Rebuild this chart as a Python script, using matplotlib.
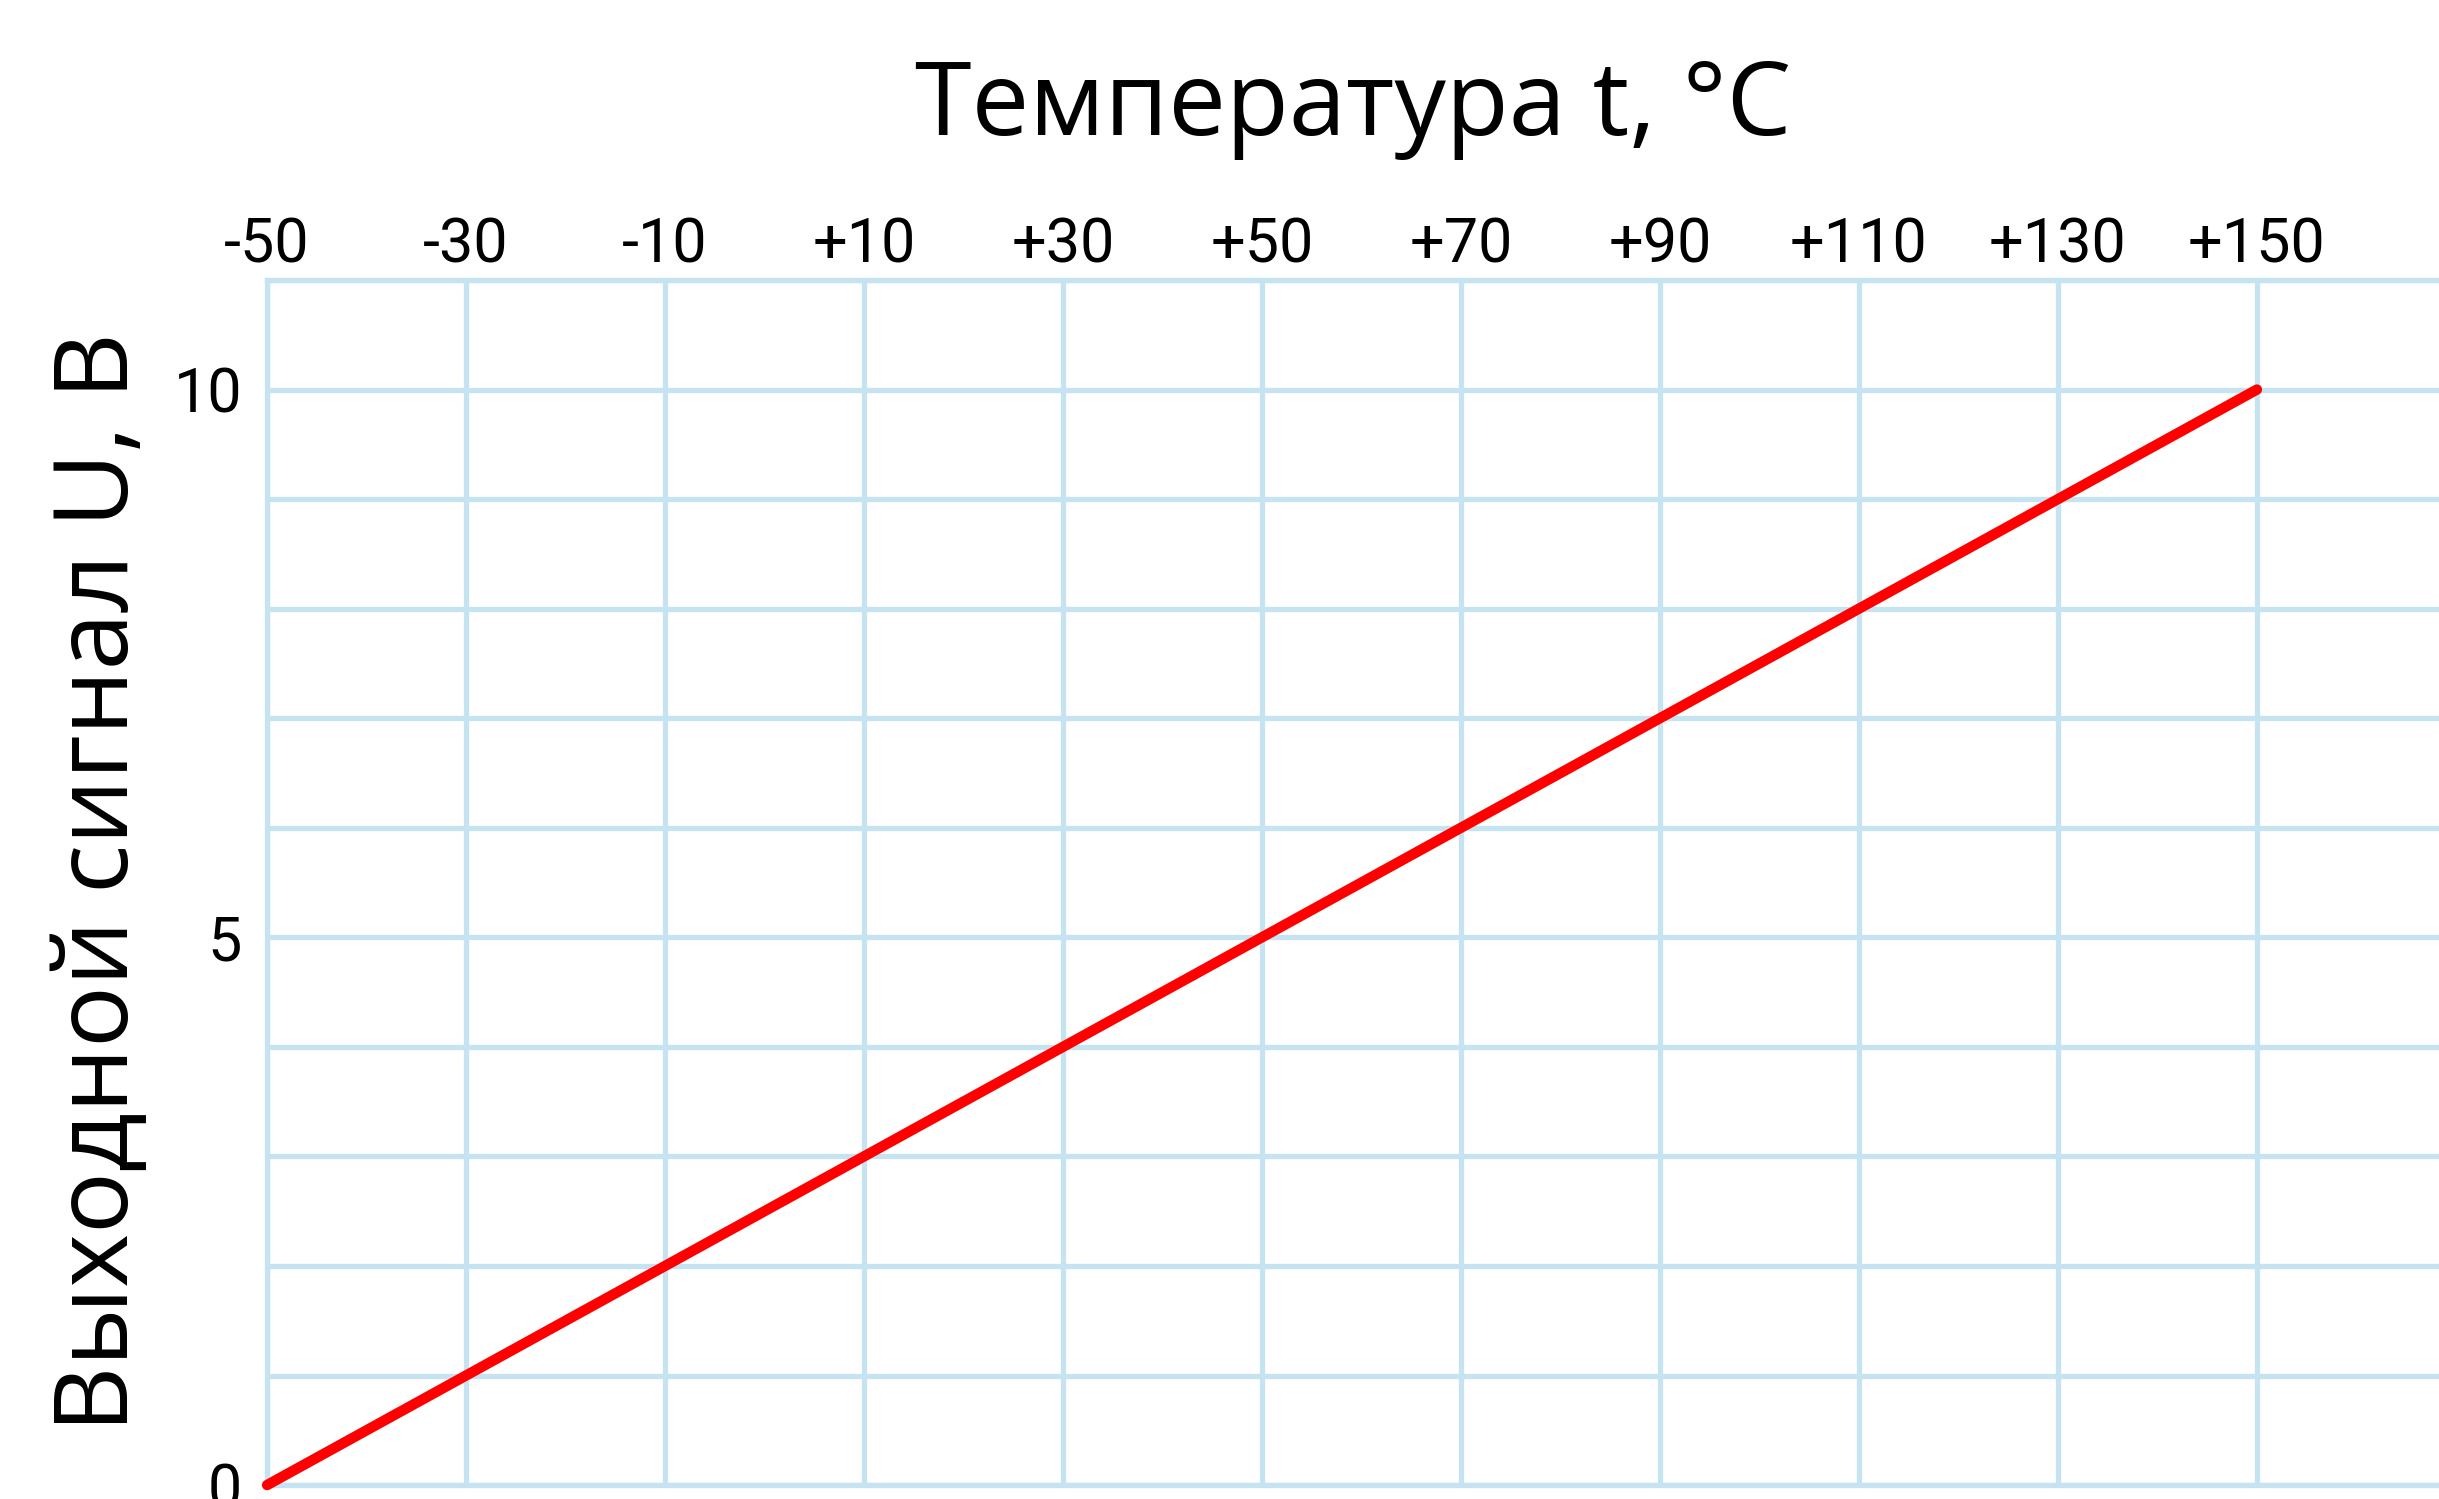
import numpy as np
import matplotlib.pyplot as plt

# ---------------------------------------------------------------
# Data: linear transfer characteristic of the temperature sensor
# ---------------------------------------------------------------
temp_c = [-50, 150]          # temperature, °C
signal_v = [0, 10]           # output signal, V

x_ticks = [-50, -30, -10, 10, 30, 50, 70, 90, 110, 130, 150]
x_tick_labels = ['-50', '-30', '-10', '+10', '+30', '+50',
                 '+70', '+90', '+110', '+130', '+150']
y_grid = list(range(0, 12))
y_ticks = [0, 5, 10]
y_tick_labels = ['0', '5', '10']

GRID = '#c6e3f2'
plt.rcParams['font.family'] = ['Open Sans', 'DejaVu Sans']
TICK_FONT = ['Roboto', 'DejaVu Sans']

fig = plt.figure(figsize=(24.39, 14.99), dpi=100)
ax = fig.add_axes([0.1095, 0.0093, 0.8905, 0.8039])

ax.plot(temp_c, signal_v, '-', color='#ff0000', linewidth=7.5,
        solid_capstyle='round', zorder=5, clip_on=False)

ax.set_xlim(-50, 168.3)
ax.set_ylim(0, 11)

ax.set_xticks(x_ticks)
ax.set_xticklabels(x_tick_labels, fontsize=44, family=TICK_FONT)
ax.set_yticks(y_ticks)
ax.set_yticklabels(y_tick_labels, fontsize=44, family=TICK_FONT)
ax.set_yticks(y_grid, minor=True)

ax.xaxis.tick_top()
ax.tick_params(axis='both', which='both', length=0)
ax.tick_params(axis='x', pad=4)
ax.tick_params(axis='y', pad=18)

ax.grid(True, which='both', color=GRID, linewidth=3.8)
for s in ax.spines.values():
    s.set_color(GRID)
    s.set_linewidth(3.8)
ax.spines['right'].set_visible(False)

fig.suptitle('Температура t, °C', x=0.5547, y=0.962, fontsize=74, va='top')
ax.set_ylabel('Выходной сигнал U, В', fontsize=74, labelpad=15)

fig.savefig('out.png', dpi=100, facecolor='white')
